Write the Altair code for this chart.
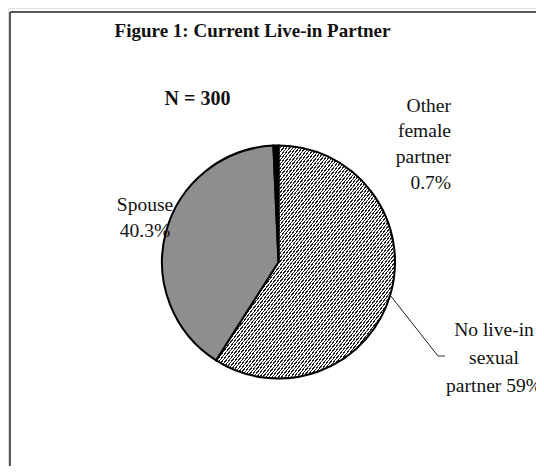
import altair as alt
import pandas as pd

# ---- data ----
categories = ["No live-in sexual partner", "Spouse", "Other female partner"]
percents = [59.0, 40.3, 0.7]
order = [1, 2, 3]
title_text = "Figure 1: Current Live-in Partner"
n_text = "N = 300"
label_other = ["Other", "female", "partner", "0.7%"]
label_spouse = ["Spouse", "40.3%"]
label_none = ["No live-in", "sexual", "partner 59%"]

df = pd.DataFrame({"cat": categories, "pct": percents, "ord": order})

W, H = 528, 458
FONT = "Liberation Serif"

# hatch-like fill made of a striped linear gradient
stops = []
N = 115
for k in range(N):
    a = k / N
    b = (k + 0.42) / N
    c = (k + 1) / N
    stops += [
        {"offset": a, "color": "#222222"},
        {"offset": b, "color": "#222222"},
        {"offset": b, "color": "#ffffff"},
        {"offset": c, "color": "#ffffff"},
    ]
hatch = {"gradient": "linear", "x1": 0, "y1": 0, "x2": 1, "y2": 1, "stops": stops}

cx, cy, R = 270.5, 254, 116.5

pie = alt.Chart(df).mark_arc(stroke="black", strokeWidth=2, outerRadius=R).encode(
    theta=alt.Theta("pct:Q", stack=True),
    order=alt.Order("ord:Q"),
    fill=alt.condition(
        alt.datum.cat == "No live-in sexual partner",
        alt.value(hatch),
        alt.Fill("cat:N", scale=alt.Scale(domain=["Spouse", "Other female partner"],
                                          range=["#8e8e8e", "#000000"]), legend=None),
    ),
    x=alt.value(cx),
    y=alt.value(cy),
)

base = alt.Chart(pd.DataFrame({"a": [0]}))

def txt(text, x, y, size=19.5, bold=False, align="center", lh=26):
    return base.mark_text(
        font=FONT, fontSize=size, fontWeight="bold" if bold else "normal",
        align=align, baseline="alphabetic", lineHeight=lh, color="#111111",
    ).encode(x=alt.value(x), y=alt.value(y), text=alt.value(text))

title = txt(title_text, 244.5, 29, size=19, bold=True)
nlab = txt(n_text, 189.5, 97, size=20, bold=True)
l_other = txt(label_other, 443, 103.5, align="right", lh=25.7)
l_spouse = txt(label_spouse, 137, 203, lh=26)
l_none = txt(label_none, 486, 327.5, lh=28)

leader1 = base.mark_rule(color="#222222", strokeWidth=1).encode(
    x=alt.value(382), y=alt.value(287), x2=alt.value(430), y2=alt.value(348))
leader2 = base.mark_rule(color="#777777", strokeWidth=1.5).encode(
    x=alt.value(430), y=alt.value(348), x2=alt.value(437), y2=alt.value(348))

box_top = base.mark_rule(color="#222222", strokeWidth=1.5).encode(
    x=alt.value(2), x2=alt.value(W), y=alt.value(4))
box_left = base.mark_rule(color="#222222", strokeWidth=1.5).encode(
    x=alt.value(2), y=alt.value(4), y2=alt.value(H))

chart = alt.layer(
    box_top, box_left, pie, leader1, leader2, title, nlab, l_other, l_spouse, l_none
).properties(
    width=W, height=H, autosize=alt.AutoSizeParams(type="none"), padding=0
).configure_view(stroke=None).configure(background="white")

chart.save("out.html", embed_options={"renderer": "svg", "actions": False})
